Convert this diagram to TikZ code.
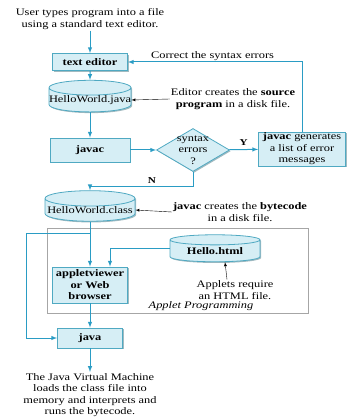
\documentclass[tikz,border=0pt]{standalone}
\usepackage{fontspec}
\setmainfont{Liberation Serif}[FakeStretch=1.24]
\usetikzlibrary{shapes.geometric, arrows, positioning, shadows}
\definecolor{flowline}{HTML}{2A9CC4}
\definecolor{boxfill}{HTML}{D6EEF5}
\definecolor{boxedge}{HTML}{4FA9C2}

\begin{document}
\begin{tikzpicture}[x=1pt, y=-1pt,
    txt/.style={align=center, font=\fontsize{10}{11.5}\selectfont, inner sep=1pt},
    process/.style={rectangle, draw=boxedge, fill=boxfill, line width=0.8pt, align=center, font=\fontsize{10}{11.5}\selectfont\bfseries, inner sep=1pt, drop shadow={shadow xshift=1.2pt, shadow yshift=-1.2pt, fill=boxedge!60!black, opacity=0.45}},
    datafile/.style={cylinder, shape border rotate=90, aspect=0.18, draw=boxedge, fill=boxfill, line width=0.8pt, font=\fontsize{10}{11.5}\selectfont, inner sep=0pt, drop shadow={shadow xshift=1.2pt, shadow yshift=-1.2pt, fill=boxedge!60!black, opacity=0.45}},
    decision/.style={diamond, draw=boxedge, fill=boxfill, line width=0.8pt, minimum width=73pt, minimum height=43pt, inner sep=0pt, drop shadow={shadow xshift=1.2pt, shadow yshift=-1.2pt, fill=boxedge!60!black, opacity=0.45}},
    frame/.style={rectangle, draw=gray!70, line width=0.8pt, minimum width=261pt, minimum height=85pt},
    arrow/.style={-latex, draw=flowline, line width=1pt},
    pointer/.style={-latex, black, line width=0.4pt}
]
    \useasboundingbox (0,0) rectangle (348,419);

    % Applet frame (behind everything)
    \node[frame] (appletframe) at (177.5,270.5) {};

    % Texts
    \node[txt] (intro) at (90,19) {User types program into a file\\using a standard text editor.};
    \node[txt] (outro) at (90,395) {The Java Virtual Machine\\loads the class file into\\memory and interprets and\\runs the bytecode.};

    % Main column
    \node[process, minimum width=75pt, minimum height=17pt] (editor) at (90,62) {text editor};
    \node[datafile, minimum width=82pt, minimum height=20pt] (hwjava) at (90,100) {HelloWorld.java};
    \node[process, minimum width=80pt, minimum height=24pt] (javac) at (90,150) {javac};
    \node[decision] (check) at (193,150) {};
    \node[txt] (checktext) at (check) {syntax\\errors\\?};
    \node[process, font=\fontsize{10}{11.5}\selectfont, minimum width=87pt, minimum height=32pt] (errmsg) at (302,149) {\textbf{javac} generates\\a list of error\\messages};
    \node[datafile, minimum width=90pt, minimum height=20pt] (hwclass) at (90,210) {HelloWorld.class};

    % Applet part
    \node[datafile, font=\fontsize{10}{11.5}\selectfont\bfseries, minimum width=90pt, minimum height=27pt] (html) at (215,251) {Hello.html};
    \node[process, minimum width=75pt, minimum height=36pt] (applet) at (90,285) {appletviewer\\or Web\\browser};
    \node[process, minimum width=65pt, minimum height=20pt] (java) at (90,338) {java};

    % Notes
    \node[txt] (srcnote) at (233,99) {Editor creates the \textbf{source}\\\textbf{program} in a disk file.};
    \node[txt] (bcnote) at (240,212) {\textbf{javac} creates the \textbf{bytecode}\\in a disk file.};
    \node[txt] (htmlnote) at (235,290) {Applets require\\an HTML file.};
    \node[txt, font=\fontsize{10}{11.5}\selectfont\itshape] (applettitle) at (201,306) {Applet Programming};

    % Flow
    \draw[arrow] (intro) -- (editor);
    \draw[arrow] (editor) -- (hwjava);
    \draw[arrow] (hwjava) -- (javac);
    \draw[arrow] (javac) -- (check);
    \draw[arrow] (check) -- node[above, font=\bfseries\small] {Y} (errmsg);
    \draw[arrow] (errmsg.north) |- node[pos=0.757, above, txt] {Correct the syntax errors} (editor.east);
    \draw[arrow] (check.south) -- ++(0,15) -| node[pos=0.2, above, font=\bfseries\small] {N} (hwclass.north);

    % Split below the class file
    \coordinate (split) at (90,233);
    \coordinate (leftrail) at (26,233);
    \draw[arrow] (hwclass) -- (applet);
    \draw[arrow] (split) -- (leftrail) |- (java.west);
    \draw[arrow] ([yshift=3pt]html.west) -| ([xshift=20pt]applet.north);
    \draw[arrow] (applet) -- (java);
    \draw[arrow] (java) -- (outro);

    % Pointers
    \draw[pointer] (srcnote.west) -- (hwjava.east);
    \draw[pointer] (bcnote.west) -- (hwclass.east);
    \draw[pointer] ([xshift=-8pt]htmlnote.north) -- ([xshift=10pt]html.south);
\end{tikzpicture}
\end{document}
